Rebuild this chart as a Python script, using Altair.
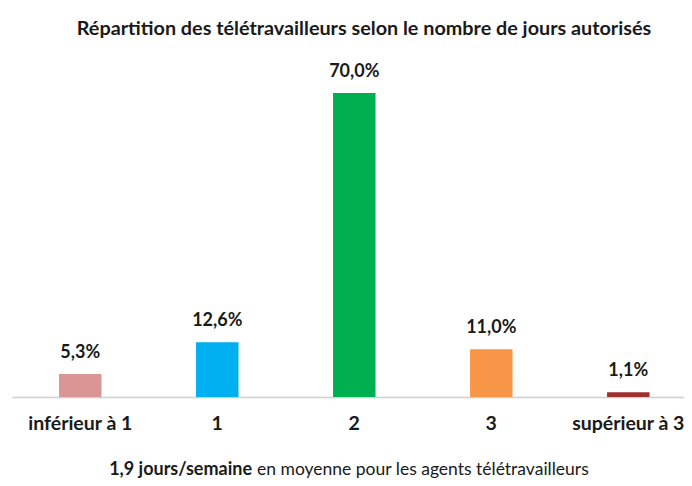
import altair as alt
import pandas as pd

categories = ["inférieur à 1", "1", "2", "3", "supérieur à 3"]
values = [5.3, 12.6, 70.0, 11.0, 1.1]
labels = ["5,3%", "12,6%", "70,0%", "11,0%", "1,1%"]
colors = ["#DA9694", "#00B0F0", "#00B050", "#F79646", "#A03030"]

df = pd.DataFrame({"cat": categories, "val": values, "lab": labels})

FONT = "Lato"
W, H = 672, 337

x = alt.X("cat:N", sort=categories,
          scale=alt.Scale(paddingInner=0.69, paddingOuter=0.2975, align=0.577),
          axis=alt.Axis(title=None, labelAngle=0, labelFont=FONT, labelFontSize=19.5,
                        labelFontWeight="bold", labelColor="#1a1a1a", labelPadding=17,
                        ticks=False, domainColor="#d0d0d0", domainWidth=1.5))
y = alt.Y("val:Q", scale=alt.Scale(domain=[0, 77.6]), axis=None)

bars = alt.Chart(df).mark_bar().encode(
    x=x, y=y,
    color=alt.Color("cat:N", scale=alt.Scale(domain=categories, range=colors), legend=None),
)

text = alt.Chart(df).mark_text(dy=-12, font=FONT, fontSize=18, fontWeight="bold",
                               color="#1a1a1a", baseline="bottom").encode(
    x=alt.X("cat:N", sort=categories), y=y, text="lab:N")

foot_bold = alt.Chart(df.head(1)).mark_text(font=FONT, fontSize=18, fontWeight="bold",
                                            color="#1a1a1a", align="right", baseline="alphabetic").encode(
    x=alt.value(240), y=alt.value(H + 78), text=alt.value("1,9 jours/semaine"))
foot_reg = alt.Chart(df.head(1)).mark_text(font=FONT, fontSize=17.5,
                                           color="#1a1a1a", align="left", baseline="alphabetic").encode(
    x=alt.value(245), y=alt.value(H + 78), text=alt.value("en moyenne pour les agents télétravailleurs"))

chart = alt.layer(bars, text, foot_bold, foot_reg).properties(
    width=W, height=H,
    background="white",
    title=alt.TitleParams("Répartition des télétravailleurs selon le nombre de jours autorisés",
                          font=FONT, fontSize=19.8, fontWeight="bold", color="#1a1a1a",
                          anchor="middle", dx=16, offset=21),
    padding={"left": 4, "top": 52, "right": 0, "bottom": 81},
    autosize=alt.AutoSizeParams(type="none"),
).configure_view(stroke=None)

chart.save("out.html", embed_options={"renderer": "svg", "actions": False})
